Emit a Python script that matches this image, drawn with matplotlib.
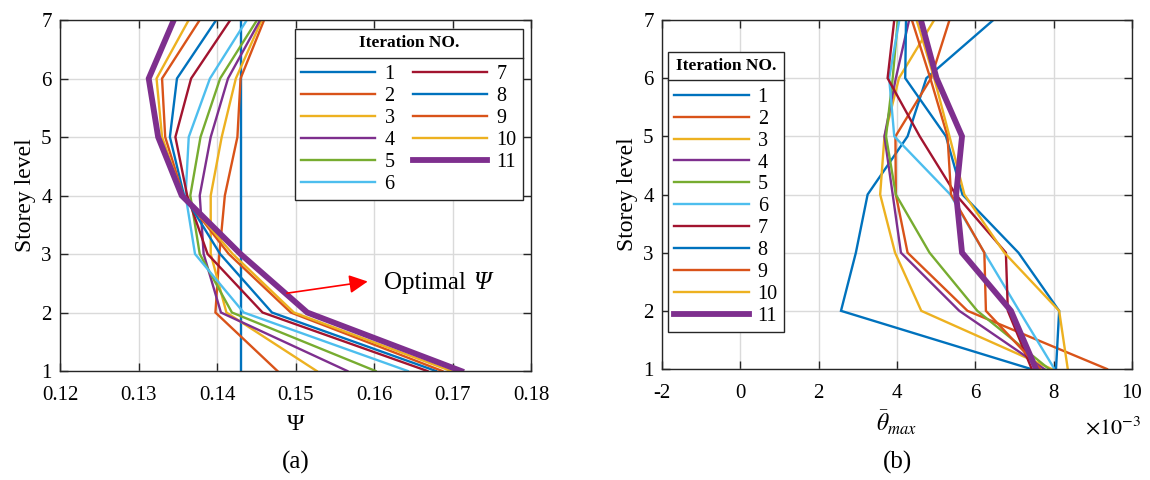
import matplotlib
matplotlib.use("Agg")
import matplotlib.pyplot as plt
from matplotlib.lines import Line2D

plt.rcParams['font.family'] = ['Liberation Serif', 'DejaVu Serif']
plt.rcParams['mathtext.fontset'] = 'stix'
plt.rcParams['axes.unicode_minus'] = False

# ---- data -------------------------------------------------------------
levels = [1, 2, 3, 4, 5, 6, 7]
iterations = ['1', '2', '3', '4', '5', '6', '7', '8', '9', '10', '11']

# (a) storey stiffness ratio Psi per iteration, levels 1..7
psi_1 = [0.1430, 0.1430, 0.1430, 0.1430, 0.1430, 0.1430, 0.1430]
psi_2 = [0.1477, 0.1398, 0.1403, 0.1410, 0.1426, 0.1430, 0.1460]
psi_3 = [0.1527, 0.1412, 0.1392, 0.1392, 0.1406, 0.1424, 0.1457]
psi_4 = [0.1566, 0.1405, 0.1383, 0.1378, 0.1392, 0.1414, 0.1455]
psi_5 = [0.1602, 0.1419, 0.1378, 0.1366, 0.1379, 0.1404, 0.1451]
psi_6 = [0.1643, 0.1434, 0.1372, 0.1360, 0.1364, 0.1391, 0.1438]
psi_7 = [0.1668, 0.1458, 0.1388, 0.1362, 0.1347, 0.1367, 0.1417]
psi_8 = [0.1679, 0.1470, 0.1404, 0.1358, 0.1340, 0.1349, 0.1399]
psi_9 = [0.1687, 0.1494, 0.1415, 0.1357, 0.1334, 0.1330, 0.1378]
psi_10 = [0.1698, 0.1498, 0.1420, 0.1356, 0.1330, 0.1323, 0.1364]
psi_11 = [0.1711, 0.1515, 0.1430, 0.1355, 0.1325, 0.1313, 0.1345]

# (b) max storey drift (x 1e-3) per iteration, levels 1..7
theta_1 = [7.42, 2.57, 2.95, 3.25, 4.27, 4.75, 6.46]
theta_2 = [9.36, 5.80, 4.27, 3.97, 3.96, 4.87, 5.34]
theta_3 = [7.95, 4.62, 3.95, 3.57, 3.68, 4.05, 4.95]
theta_4 = [7.76, 5.59, 4.10, 3.89, 3.68, 3.97, 4.31]
theta_5 = [7.88, 6.05, 4.83, 3.97, 3.72, 3.89, 4.02]
theta_6 = [8.02, 7.12, 6.23, 5.36, 3.93, 3.80, 4.06]
theta_7 = [7.44, 6.83, 6.78, 5.50, 4.58, 3.76, 3.93]
theta_8 = [8.06, 8.14, 7.10, 5.67, 5.25, 4.21, 4.23]
theta_9 = [7.66, 6.27, 6.23, 5.38, 5.29, 4.85, 4.38]
theta_10 = [8.36, 8.14, 6.74, 5.72, 5.34, 4.95, 4.50]
theta_11 = [7.55, 6.91, 5.66, 5.51, 5.66, 5.01, 4.61]

psi_series = [psi_1, psi_2, psi_3, psi_4, psi_5, psi_6, psi_7, psi_8, psi_9, psi_10, psi_11]
theta_series = [theta_1, theta_2, theta_3, theta_4, theta_5, theta_6, theta_7,
                theta_8, theta_9, theta_10, theta_11]

psi_ticks = [0.12, 0.13, 0.14, 0.15, 0.16, 0.17, 0.18]
theta_ticks = [-2, 0, 2, 4, 6, 8, 10]

# ---- style ------------------------------------------------------------
palette = ['#0072BD', '#D95319', '#EDB120', '#7E2F8E', '#77AC30', '#4DBEEE',
           '#A2142F', '#0072BD', '#D95319', '#EDB120', '#7E2F8E']
widths = [1.7] * 10 + [4.2]
spine_c = '#262626'

fig = plt.figure(figsize=(11.5, 4.8), dpi=100)
axA = fig.add_axes([60 / 1150, 1 - 371 / 480, 471 / 1150, 351 / 480])
axB = fig.add_axes([662 / 1150, 1 - 369 / 480, 470 / 1150, 349 / 480])


def style_axes(ax):
    ax.set_ylim(1, 7)
    ax.set_yticks(levels)
    ax.grid(True, color='#DADADA', linewidth=1.0)
    ax.set_axisbelow(True)
    for s in ax.spines.values():
        s.set_color(spine_c)
        s.set_linewidth(1.0)
    ax.tick_params(direction='in', top=True, right=True, length=6,
                   width=1.0, color=spine_c, labelsize=15, labelcolor='black')
    ax.tick_params(axis='x', pad=11)
    ax.tick_params(axis='y', pad=6)
    ax.set_ylabel('Storey level', fontsize=17, labelpad=4)


def add_legend(ax, ncol, anchor, loc):
    leg = ax.legend(ncol=ncol, loc=loc, bbox_to_anchor=anchor, borderaxespad=0,
                    title='Iteration NO.', fontsize=14.5,
                    title_fontproperties={'weight': 'bold', 'size': 12.5},
                    frameon=True, fancybox=False, framealpha=1,
                    edgecolor=spine_c, handlelength=3.7, handletextpad=0.45,
                    labelspacing=0.14, columnspacing=0.9, borderpad=0.3)
    leg.get_frame().set_linewidth(1.0)
    # extra gap between the title and the entries
    leg._legend_box.sep = 10
    return leg


# (a)
for i, vals in enumerate(psi_series):
    axA.plot(vals, levels, color=palette[i], lw=widths[i], label=iterations[i],
             solid_joinstyle='miter')
style_axes(axA)
axA.set_xlim(0.12, 0.18)
axA.set_xticks(psi_ticks)
axA.set_xticklabels([f'{t:.2f}' for t in psi_ticks])
axA.set_xlabel('Ψ', fontsize=17, labelpad=6)
legA = add_legend(axA, 2, (0.982, 0.974), 'upper right')
axA.annotate('', xy=(0.1592, 2.53), xytext=(0.1489, 2.33),
             arrowprops=dict(arrowstyle='-|>', color='red', lw=1.2,
                             mutation_scale=28, shrinkA=0, shrinkB=0))
t_opt = axA.text(0.1613, 2.50, 'Optimal', fontsize=18, va='center', ha='left')
axA.annotate('Ψ', xy=(1, 0.5), xycoords=t_opt, xytext=(5, 0),
             textcoords='offset points', fontsize=18, fontstyle='italic',
             va='center', ha='left')

# (b)
for i, vals in enumerate(theta_series):
    axB.plot(vals, levels, color=palette[i], lw=widths[i], label=iterations[i],
             solid_joinstyle='miter')
style_axes(axB)
axB.set_xlim(-2, 10)
axB.set_xticks(theta_ticks)
axB.set_xticklabels([str(t) for t in theta_ticks])
axB.set_xlabel(r'$\bar{\theta}_{max}$', fontsize=17, labelpad=4)
legB = add_legend(axB, 1, (0.0128, 0.909), 'upper left')
axB.text(1.02, -0.17, r'$\times10^{-3}$', transform=axB.transAxes, fontsize=16,
         ha='right', va='center')

fig.text(296 / 1150, 1 - 462 / 480, '(a)', fontsize=18, ha='center', va='center')
fig.text(897 / 1150, 1 - 462 / 480, '(b)', fontsize=18, ha='center', va='center')

# separator line under each legend title
fig.canvas.draw()
renderer = fig.canvas.get_renderer()
for leg in (legA, legB):
    fb = leg.get_frame().get_window_extent(renderer)
    tb = leg.get_title().get_window_extent(renderer)
    ysep = 0.5 * (tb.y0 + tb.y1) - 14.5
    p0 = fig.transFigure.inverted().transform((fb.x0, ysep))
    p1 = fig.transFigure.inverted().transform((fb.x1, ysep))
    fig.add_artist(Line2D([p0[0], p1[0]], [p0[1], p1[1]], color=spine_c,
                          lw=1.0, transform=fig.transFigure))

fig.savefig('out.png', dpi=100)
